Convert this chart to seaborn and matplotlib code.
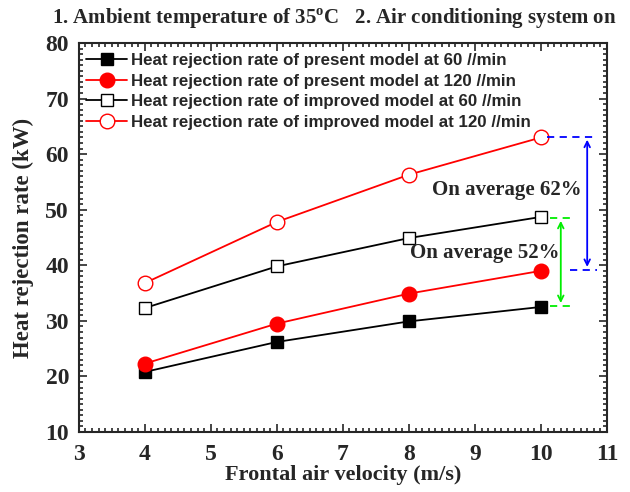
import numpy as np
import pandas as pd
import matplotlib
matplotlib.use("Agg")
import matplotlib.pyplot as plt
import seaborn as sns
from matplotlib.ticker import MultipleLocator

velocity = [4, 6, 8, 10]
present_60 = [20.8, 26.2, 29.9, 32.5]
present_120 = [22.3, 29.5, 34.9, 39.0]
improved_60 = [32.3, 39.8, 44.9, 48.7]
improved_120 = [36.8, 47.8, 56.3, 63.0]
labels = [
    "Heat rejection rate of present model at 60 //min",
    "Heat rejection rate of present model at 120 //min",
    "Heat rejection rate of improved model at 60 //min",
    "Heat rejection rate of improved model at 120 //min",
]
series = [present_60, present_120, improved_60, improved_120]
colors = ["black", "red", "black", "red"]
markers = ["s", "o", "s", "o"]
filled = [True, True, False, False]

sns.set_style("ticks")
plt.rcParams["font.family"] = ["Liberation Serif", "DejaVu Serif"]
plt.rcParams["mathtext.fontset"] = "custom"
plt.rcParams["mathtext.rm"] = "Liberation Serif"
plt.rcParams["mathtext.bf"] = "Liberation Serif:bold"

fig = plt.figure(figsize=(6.3, 4.92), dpi=100)
ax = fig.add_axes([0.125, 0.122, 0.8385, 0.7906])

for lab, vals, c, m, f in zip(labels, series, colors, markers, filled):
    df = pd.DataFrame({"v": velocity, "q": vals})
    sns.lineplot(data=df, x="v", y="q", ax=ax, color=c, marker=m,
                 markersize=9 if m == "s" else 10.5,
                 markerfacecolor=c if f else "white",
                 markeredgecolor=c, markeredgewidth=1.0,
                 linewidth=1.3, label=lab)

ax.set_xlim(3, 11)
ax.set_ylim(10, 80)
ax.xaxis.set_major_locator(MultipleLocator(1))
ax.xaxis.set_minor_locator(MultipleLocator(0.1))
ax.yaxis.set_major_locator(MultipleLocator(10))
ax.yaxis.set_minor_locator(MultipleLocator(1))
ax.tick_params(which="both", direction="in", top=True, right=True, width=1.2)
ax.tick_params(which="major", length=6, labelsize=17)
ax.tick_params(axis="x", which="major", pad=9)
ax.tick_params(axis="y", which="major", pad=7)
ax.tick_params(which="minor", length=3)
for lbl in ax.get_xticklabels() + ax.get_yticklabels():
    lbl.set_fontweight("bold")
for s in ax.spines.values():
    s.set_linewidth(1.5)

ax.set_xlabel("Frontal air velocity (m/s)", fontsize=16, fontweight="bold", labelpad=0)
ax.set_ylabel("Heat rejection rate (kW)", fontsize=16.5, fontweight="bold", labelpad=8)

leg = ax.legend(loc="upper left", frameon=False,
                prop={"family": "Liberation Sans", "weight": "bold", "size": 12.2},
                handlelength=2.4, handletextpad=0.25, labelspacing=0.33, borderaxespad=0.2,
                bbox_to_anchor=(-0.005, 1.0))

# annotation lines
ax.plot([10.09, 10.85], [63.1, 63.1], color="blue", ls=(0, (4, 3)), lw=1.3)
ax.plot([10.44, 10.85], [39.2, 39.2], color="blue", ls=(0, (4, 3)), lw=1.3)
ax.annotate("", xy=(10.70, 63.1), xytext=(10.70, 39.2),
            arrowprops=dict(arrowstyle="<->", color="blue", lw=1.3))
ax.plot([10.14, 10.52], [48.5, 48.5], color="#00ee00", ls=(0, (4, 3)), lw=1.3)
ax.plot([10.14, 10.52], [32.7, 32.7], color="#00ee00", ls=(0, (4, 3)), lw=1.3)
ax.annotate("", xy=(10.30, 48.5), xytext=(10.30, 32.7),
            arrowprops=dict(arrowstyle="<->", color="#00ee00", lw=1.3))
ax.text(9.48, 53.5, "On average 62%", ha="center", va="center", fontsize=15, fontweight="bold")
ax.text(9.15, 42.2, "On average 52%", ha="center", va="center", fontsize=15, fontweight="bold")

fig.text(52 / 630, 1 - 19 / 492, r"1. Ambient temperature of 35$^{\mathbf{o}}$C   2. Air conditioning system on",
         ha="left", va="center", fontsize=15, fontweight="bold")

fig.savefig("out.png", dpi=100)
